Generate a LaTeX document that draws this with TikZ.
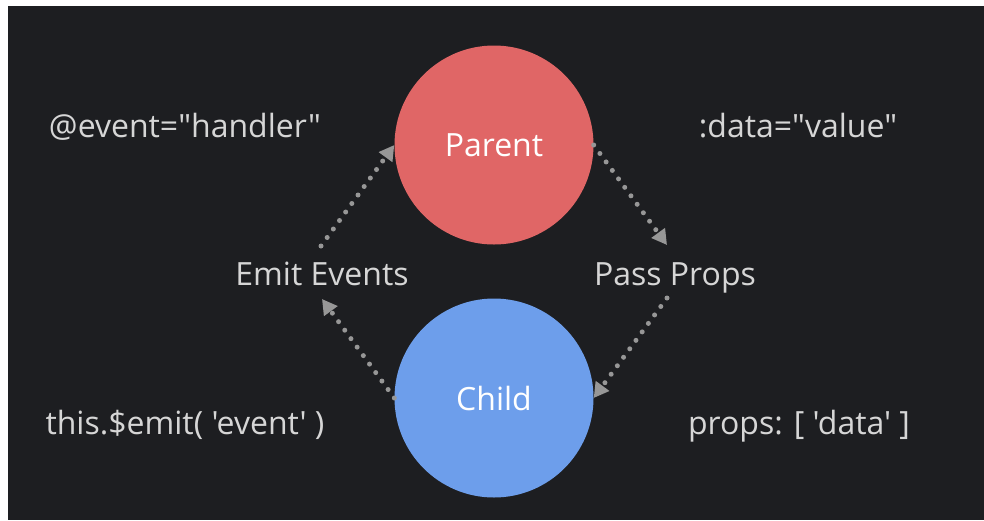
\documentclass[tikz,border=0pt]{standalone}
\usepackage{fontspec}
\newfontfamily\labelfont{Open Sans}[Ligatures=TeXOff]
\usetikzlibrary{arrows.meta}

\definecolor{board}{HTML}{1D1E21}
\definecolor{parentred}{HTML}{E06666}
\definecolor{childblue}{HTML}{6D9EEB}
\definecolor{flowgrey}{HTML}{979797}
\definecolor{labelgrey}{HTML}{D6D6D6}

\tikzset{
  role/.style={circle, minimum size=199pt, inner sep=0pt, text=white,
    font=\labelfont\fontsize{32}{36}\selectfont},
  caption/.style={text=labelgrey, inner sep=0pt, anchor=base,
    font=\labelfont\fontsize{32}{36}\selectfont},
  flow/.style={draw=flowgrey, line width=5pt, line cap=round,
    dash pattern=on 0pt off 10.5pt,
    -{Triangle[length=15pt,width=16pt,line cap=butt]}},
}

\begin{document}
\begin{tikzpicture}[x=1pt, y=-1pt]
  % page frame and chalkboard
  \fill[white] (0,0) rectangle (984,520);
  \fill[board] (8,6) rectangle (984,520);
  \useasboundingbox (0,0) rectangle (984,520);

  % the two components
  \node[role, fill=parentred] (parent) at (494,145) {Parent};
  \node[role, fill=childblue] (child) at (494,398) {Child};

  % flow labels (placed by baseline)
  \node[caption] (emit) at (322,285) {Emit Events};
  \node[caption] (pass) at (675,285) {Pass Props};

  % code snippets
  \node[caption] (listen) at (185,137) {@event="handler"};
  \node[caption] (bind) at (798,137) {:data="value"};
  \node[caption] (emitcall) at (185,434) {this.\$emit( 'event' )};
  \node[caption] (propsdecl) at (799,434) {props: [ 'data' ]};

  % arrow end points around the labels
  \coordinate (emitTop) at (321,246);
  \coordinate (emitBot) at (322,299);
  \coordinate (passTop) at (667,245);
  \coordinate (passBot) at (667,298);

  % dotted arrows
  \draw[flow] (emitTop) -- (parent.west);
  \draw[flow] (parent.east) -- (passTop);
  \draw[flow] (passBot) -- (child.east);
  \draw[flow] (child.west) -- (emitBot);
\end{tikzpicture}
\end{document}
